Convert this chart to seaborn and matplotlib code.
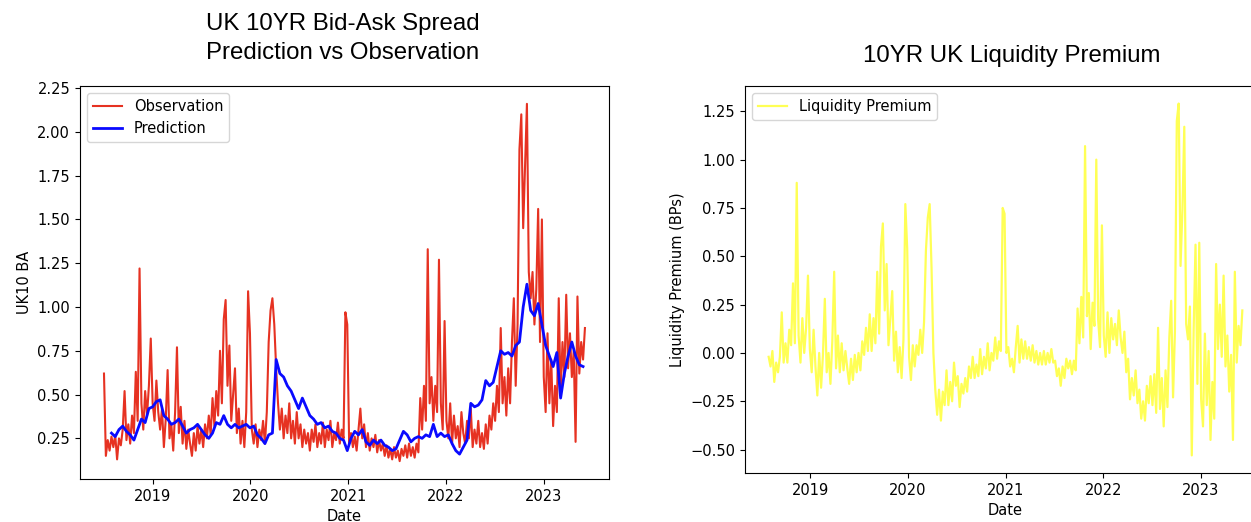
import matplotlib
matplotlib.use("Agg")
import matplotlib.pyplot as plt
import matplotlib.dates as mdates
import pandas as pd
import seaborn as sns

obs_2018 = [0.62, 0.15, 0.24, 0.18, 0.26, 0.20, 0.27, 0.13, 0.25, 0.21,
            0.30, 0.52, 0.24, 0.33, 0.22, 0.38, 0.28, 0.63, 0.35, 1.22,
            0.45, 0.30, 0.52, 0.38, 0.55, 0.82]
obs_2019 = [0.45, 0.35, 0.58, 0.40, 0.30, 0.42, 0.20, 0.36, 0.64, 0.25,
            0.33, 0.18, 0.40, 0.77, 0.28, 0.43, 0.22, 0.35, 0.19, 0.30,
            0.22, 0.15, 0.28, 0.18, 0.32, 0.22, 0.30, 0.20, 0.33, 0.25,
            0.38, 0.27, 0.48, 0.32, 0.52, 0.38, 0.75, 0.45, 0.93, 1.04,
            0.55, 0.78, 0.35, 0.50, 0.65, 0.28, 0.42, 0.22, 0.35, 0.20,
            0.40, 1.09]
obs_2020 = [0.85, 0.30, 0.22, 0.33, 0.20, 0.30, 0.24, 0.35, 0.22, 0.40,
            0.80, 0.98, 1.05, 0.90, 0.65, 0.45, 0.30, 0.42, 0.25, 0.38,
            0.28, 0.45, 0.25, 0.35, 0.22, 0.40, 0.25, 0.33, 0.20, 0.30,
            0.22, 0.28, 0.18, 0.30, 0.23, 0.33, 0.20, 0.28, 0.22, 0.34,
            0.20, 0.30, 0.24, 0.35, 0.20, 0.28, 0.24, 0.34, 0.22, 0.30,
            0.25, 0.97, 0.90]
obs_2021 = [0.22, 0.28, 0.20, 0.26, 0.18, 0.30, 0.42, 0.25, 0.33, 0.20,
            0.28, 0.18, 0.25, 0.20, 0.27, 0.17, 0.24, 0.18, 0.22, 0.15,
            0.21, 0.14, 0.19, 0.13, 0.20, 0.14, 0.18, 0.12, 0.19, 0.15,
            0.21, 0.14, 0.22, 0.15, 0.20, 0.14, 0.22, 0.17, 0.48, 0.30,
            0.55, 0.35, 1.33, 0.45, 0.60, 0.35, 0.55, 0.40, 1.27, 0.45,
            0.30, 0.92]
obs_2022 = [0.35, 0.25, 0.45, 0.22, 0.38, 0.25, 0.32, 0.20, 0.40, 0.28,
            0.22, 0.35, 0.25, 0.42, 0.20, 0.30, 0.22, 0.35, 0.20, 0.28,
            0.19, 0.33, 0.22, 0.38, 0.30, 0.45, 0.35, 0.55, 0.40, 0.88,
            0.45, 0.60, 0.38, 0.65, 0.45, 0.80, 1.05, 0.55, 0.90, 1.90,
            2.10, 1.45, 1.80, 2.16, 1.20, 1.05, 1.20, 0.90, 1.10, 1.56,
            0.80, 1.50]
obs_2023 = [0.60, 0.40, 0.85, 0.45, 0.70, 0.32, 0.55, 0.40, 1.05, 0.50,
            0.80, 0.60, 1.07, 0.65, 0.85, 0.60, 0.75, 0.23, 1.06, 0.62,
            0.80, 0.70, 0.88]
observation = obs_2018 + obs_2019 + obs_2020 + obs_2021 + obs_2022 + obs_2023

# fortnightly model prediction (from 2018-07-30)
prediction = [0.28, 0.26, 0.30, 0.32, 0.29, 0.27, 0.24, 0.30, 0.36, 0.34,
              0.42, 0.43, 0.46, 0.47, 0.38, 0.36, 0.33, 0.34, 0.36, 0.32,
              0.28, 0.30, 0.31, 0.33, 0.30, 0.27, 0.25, 0.28, 0.34, 0.33,
              0.38, 0.33, 0.31, 0.33, 0.31, 0.32, 0.33, 0.31, 0.32, 0.27,
              0.25, 0.22, 0.27, 0.28, 0.70, 0.62, 0.60, 0.55, 0.52, 0.47,
              0.42, 0.48, 0.43, 0.38, 0.36, 0.33, 0.34, 0.31, 0.32, 0.29,
              0.28, 0.25, 0.24, 0.18, 0.25, 0.29, 0.27, 0.30, 0.23, 0.21,
              0.24, 0.22, 0.24, 0.21, 0.20, 0.18, 0.19, 0.24, 0.29, 0.27,
              0.23, 0.25, 0.26, 0.25, 0.27, 0.26, 0.33, 0.26, 0.28, 0.26,
              0.27, 0.22, 0.18, 0.16, 0.20, 0.24, 0.45, 0.43, 0.44, 0.47,
              0.58, 0.55, 0.57, 0.66, 0.75, 0.73, 0.74, 0.72, 0.78, 0.80,
              1.00, 1.13, 0.98, 0.95, 1.02, 0.90, 0.78, 0.72, 0.66, 0.74,
              0.48, 0.62, 0.72, 0.80, 0.72, 0.67, 0.66]

# weekly liquidity premium in BPs (from 2018-07-30)
liquidity_premium = [
    -0.02, -0.07, 0.01, -0.15, -0.05, -0.10, -0.02, 0.21, -0.05, 0.05,
    -0.05, 0.12, 0.04, 0.36, 0.05, 0.88, 0.09, -0.05, 0.18, 0.00,
    0.13, 0.40, 0.02, -0.10, 0.12, -0.07, -0.22, 0.00, -0.18, -0.01,
    0.28, -0.10, 0.00, -0.16, 0.06, 0.42, -0.08, 0.09, -0.10, 0.05,
    -0.09, 0.01, -0.08, -0.16, -0.03, -0.14, -0.01, -0.10, 0.00, -0.09,
    0.06, -0.01, 0.13, 0.01, 0.20, 0.01, 0.18, 0.05, 0.42, 0.10,
    0.55, 0.67, 0.22, 0.46, 0.04, 0.18, 0.32, -0.04, 0.11, -0.10,
    0.03, -0.13, 0.07, 0.77, 0.54, -0.02, -0.14, 0.04, -0.07, 0.04,
    -0.01, 0.12, 0.00, 0.16, 0.53, 0.70, 0.77, 0.44, 0.00, -0.19,
    -0.32, -0.19, -0.35, -0.20, -0.27, -0.09, -0.27, -0.15, -0.25, -0.05,
    -0.17, -0.12, -0.28, -0.16, -0.21, -0.13, -0.20, -0.07, -0.13, -0.02,
    -0.13, -0.06, -0.12, 0.02, -0.11, -0.02, -0.08, 0.05, -0.09, 0.00,
    -0.04, 0.08, -0.03, 0.06, 0.01, 0.75, 0.72, 0.00, 0.03, -0.07,
    -0.03, -0.10, 0.03, 0.14, -0.05, 0.07, -0.03, 0.06, -0.03, 0.03,
    -0.04, 0.04, -0.05, 0.01, -0.06, 0.00, -0.06, 0.01, -0.06, 0.00,
    -0.05, 0.02, -0.05, -0.04, -0.12, -0.08, -0.17, -0.07, -0.13, -0.03,
    -0.08, -0.04, -0.11, -0.04, -0.09, 0.23, 0.05, 0.29, 0.08, 1.07,
    0.19, 0.31, 0.02, 0.26, 0.14, 1.00, 0.17, 0.03, 0.66, 0.09,
    -0.02, 0.21, 0.00, 0.18, 0.07, 0.15, 0.04, 0.22, 0.08, 0.00,
    0.11, -0.10, -0.03, -0.24, -0.13, -0.22, -0.09, -0.26, -0.19, -0.34,
    -0.25, -0.35, -0.17, -0.26, -0.12, -0.27, -0.11, -0.31, 0.13, -0.29,
    -0.13, -0.38, -0.09, -0.28, 0.08, 0.27, -0.23, 0.11, 1.20, 1.29,
    0.45, 0.74, 1.17, 0.15, 0.07, 0.24, -0.53, 0.12, 0.56, -0.16,
    0.57, -0.24, -0.38, 0.10, -0.27, 0.01, -0.45, -0.15, -0.34, 0.46,
    0.02, 0.25, -0.02, 0.40, -0.07, 0.09, -0.20, -0.01, -0.45, 0.42,
    -0.05, 0.14, 0.04, 0.22]

obs_dates = pd.date_range("2018-07-02", periods=len(observation), freq="7D")
pred_dates = pd.date_range("2018-07-30", periods=len(prediction), freq="14D")
lp_dates = pd.date_range("2018-07-30", periods=len(liquidity_premium), freq="7D")

plt.rcParams["font.size"] = 10.5

fig = plt.figure(figsize=(12.51, 5.22), dpi=100)
ax1 = fig.add_axes([0.0639, 0.0824, 0.4229, 0.7529])
ax2 = fig.add_axes([0.5955, 0.0939, 0.4165, 0.7414])

# left: bid-ask spread, observation vs prediction
sns.lineplot(x=obs_dates, y=observation, ax=ax1, color="#e63222",
             linewidth=1.5, label="Observation")
sns.lineplot(x=pred_dates, y=prediction, ax=ax1, color="#0a0aff",
             linewidth=2.0, label="Prediction")
ax1.set_xlabel("Date")
ax1.set_ylabel("UK10 BA")
ax1.legend(loc="upper left")

# right: liquidity premium
sns.lineplot(x=lp_dates, y=liquidity_premium, ax=ax2, color="#ffff55",
             linewidth=1.6, label="Liquidity Premium")
ax2.set_xlabel("Date")
ax2.set_ylabel("Liquidity Premium (BPs)")
ax2.legend(loc="upper left")

for ax in (ax1, ax2):
    ax.xaxis.set_major_locator(mdates.YearLocator())
    ax.xaxis.set_major_formatter(mdates.DateFormatter("%Y"))

title_font = dict(family=["Liberation Sans", "DejaVu Sans"], size=17.3)
fig.text(343 / 1251, 1 - 38.5 / 522,
         "UK 10YR Bid-Ask Spread\nPrediction vs Observation",
         ha="center", va="center", linespacing=1.37, **title_font)
fig.text(1012 / 1251, 1 - 56 / 522, "10YR UK Liquidity Premium",
         ha="center", va="center", **title_font)

fig.savefig("out.png", dpi=100)
